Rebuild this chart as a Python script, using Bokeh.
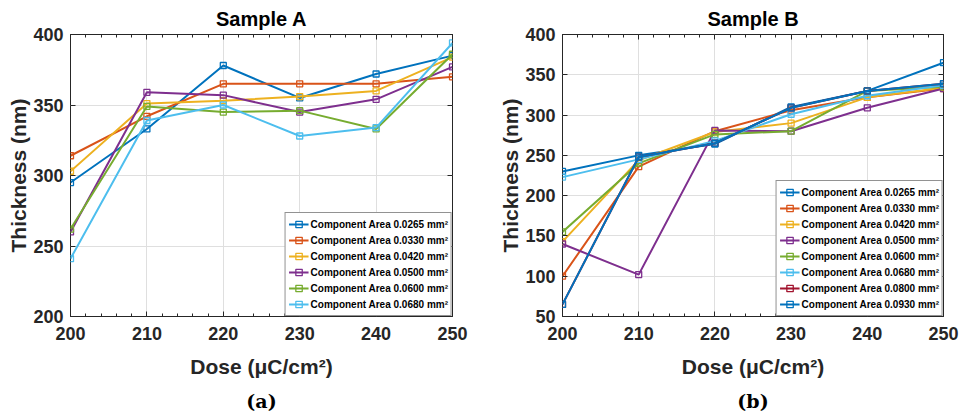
from bokeh.plotting import figure
from bokeh.models import (LinearAxis, Range1d, Legend, LegendItem, FixedTicker, Title,
                          CustomLabelingPolicy)
from bokeh.layouts import row
from bokeh.embed import file_html
from bokeh.resources import INLINE

dose = [200, 210, 220, 230, 240, 250]
x_ticks = [200, 210, 220, 230, 240, 250]

# Sample A
a_0265 = [295, 333, 378, 355, 372, 385]
a_0330 = [314, 342, 365, 365, 365, 370]
a_0420 = [303, 351, 353, 356, 360, 384]
a_0500 = [260, 359, 357, 345, 354, 377]
a_0600 = [262, 349, 345, 346, 333, 386]
a_0680 = [241, 339, 350, 328, 334, 394]
a_labels = ["Component Area 0.0265 mm\u00b2", "Component Area 0.0330 mm\u00b2",
            "Component Area 0.0420 mm\u00b2", "Component Area 0.0500 mm\u00b2",
            "Component Area 0.0600 mm\u00b2", "Component Area 0.0680 mm\u00b2"]
a_yticks = [200, 250, 300, 350, 400]

# Sample B
b_0265 = [230, 250, 264, 310, 330, 365]
b_0330 = [100, 236, 280, 306, 322, 333]
b_0420 = [143, 244, 279, 290, 322, 334]
b_0500 = [140, 102, 281, 280, 309, 333]
b_0600 = [155, 240, 276, 280, 330, 335]
b_0680 = [223, 245, 268, 301, 324, 337]
b_0800 = [65, 248, 265, 309, 330, 339]
b_0930 = [65, 248, 265, 309, 330, 339]
b_labels = a_labels + ["Component Area 0.0800 mm\u00b2", "Component Area 0.0930 mm\u00b2"]
b_yticks = [50, 100, 150, 200, 250, 300, 350, 400]

colors = ["#0072BD", "#D95319", "#EDB120", "#7E2F8E", "#77AC30", "#4DBEEE", "#A2142F", "#0072BD"]

FONT = "Arial"
AX = "#262626"


def style_axis(ax, show_labels, minor):
    ax.axis_line_color = None
    ax.major_tick_in = 5
    ax.major_tick_out = 0
    ax.major_tick_line_color = AX
    ax.minor_tick_in = 3
    ax.minor_tick_out = 0
    ax.minor_tick_line_color = AX if minor else None
    ax.major_label_text_font = FONT
    ax.major_label_text_font_style = "bold"
    ax.major_label_text_color = AX
    if show_labels:
        ax.major_label_text_font_size = "18px"
    else:
        ax.major_label_text_font_size = "0px"
        ax.major_label_policy = CustomLabelingPolicy(code="return []")
        ax.major_label_standoff = 0


def make_panel(title, caption, series, labels, y_start, y_end, y_ticks, borders, leg_item_h):
    left, right, top, bottom = borders
    p = figure(width=483, height=419, output_backend="svg", toolbar_location=None,
               x_range=Range1d(200, 250), y_range=Range1d(y_start, y_end),
               min_border_left=left, min_border_right=right,
               min_border_top=top, min_border_bottom=bottom)
    p.outline_line_color = AX
    p.outline_line_width = 1
    p.outline_line_alpha = 1
    p.background_fill_color = "white"
    p.border_fill_color = "white"

    xt = FixedTicker(ticks=x_ticks, minor_ticks=[x for x in range(200, 251, 2)])
    yt = FixedTicker(ticks=y_ticks)
    p.xaxis.ticker = xt
    p.yaxis.ticker = yt
    p.xgrid.ticker = xt
    p.ygrid.ticker = yt
    p.xgrid.grid_line_color = "#dfdfdf"
    p.ygrid.grid_line_color = "#dfdfdf"

    for ax in p.xaxis:
        style_axis(ax, True, True)
        ax.axis_label = "Dose (\u03bcC/cm\u00b2)"
        ax.major_label_standoff = 10
        ax.axis_label_standoff = 12
    for ax in p.yaxis:
        style_axis(ax, True, False)
        ax.axis_label = "Thickness (nm)"
        ax.major_label_standoff = 7
        ax.axis_label_standoff = 0
    for ax in list(p.xaxis) + list(p.yaxis):
        ax.axis_label_text_font = FONT
        ax.axis_label_text_font_style = "bold"
        ax.axis_label_text_font_size = "21px"
        ax.axis_label_text_color = AX

    top_ax = LinearAxis(ticker=xt)
    style_axis(top_ax, False, True)
    p.add_layout(top_ax, "above")
    right_ax = LinearAxis(ticker=yt)
    style_axis(right_ax, False, False)
    p.add_layout(right_ax, "right")

    p.title.text = title
    p.title.align = "center"
    p.title.text_font = FONT
    p.title.text_font_style = "bold"
    p.title.text_font_size = "20px"
    p.title.text_color = "#000000"

    cap = Title(text=caption, align="center", text_font="DejaVu Serif",
                text_font_style="bold", text_font_size="19px", text_color="#000000",
                standoff=14)
    p.add_layout(cap, "below")

    items = []
    for i, (ys, lab) in enumerate(zip(series, labels)):
        c = colors[i]
        lr = p.line(dose, ys, line_color=c, line_width=2)
        sr = p.scatter(dose, ys, marker="square", size=6, line_color=c, fill_color=None, line_width=1.3)
        items.append(LegendItem(label=lab, renderers=[lr, sr]))

    leg = Legend(items=items, location="bottom_right", margin=0, padding=3,
                 spacing=0, glyph_height=leg_item_h, glyph_width=20, label_height=leg_item_h,
                 label_standoff=2, label_text_font=FONT, label_text_font_style="bold",
                 label_text_font_size="10px", label_text_color="#000000",
                 border_line_color=AX, border_line_width=1, background_fill_alpha=1)
    p.add_layout(leg)
    return p


pA = make_panel("Sample A", "(a)", [a_0265, a_0330, a_0420, a_0500, a_0600, a_0680], a_labels,
                200, 400, a_yticks, (70, 31, 33, 102), 16)
pB = make_panel("Sample B", "(b)", [b_0265, b_0330, b_0420, b_0500, b_0600, b_0680, b_0800, b_0930],
                b_labels, 50, 400, b_yticks, (79, 23, 34, 103), 16)

layout = row(pA, pB)
open("out.html", "w").write(file_html(layout, INLINE))
